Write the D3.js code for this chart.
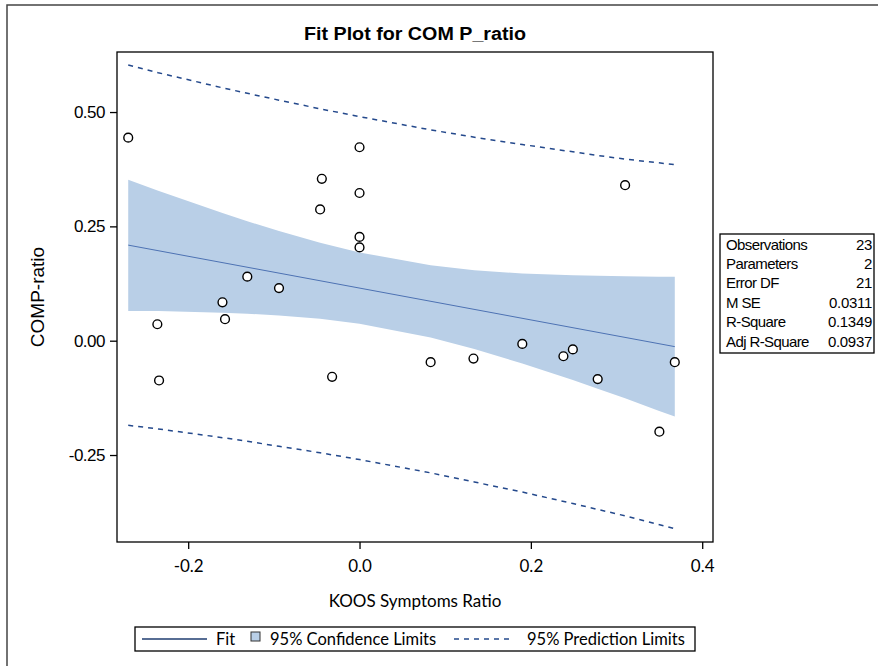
<!DOCTYPE html>
<html>
<head>
<meta charset="utf-8">
<script src="https://cdn.jsdelivr.net/npm/d3@7/dist/d3.min.js"></script>
<style>
  body { margin: 0; background: #fff; }
  svg { display: block; }
</style>
</head>
<body>
<div id="main"></div>
<script>
// observations
var koosX = [-0.270, 0.000, -0.044, 0.000, -0.046, 0.000, 0.000, -0.131, -0.094, -0.160, -0.157, -0.236,
             -0.234, -0.032, 0.083, 0.133, 0.190, 0.238, 0.249, 0.278, 0.310, 0.350, 0.368];
var compY = [0.444, 0.423, 0.354, 0.323, 0.287, 0.227, 0.204, 0.140, 0.115, 0.084, 0.047, 0.036,
             -0.087, -0.079, -0.047, -0.039, -0.007, -0.034, -0.019, -0.084, 0.340, -0.199, -0.047];

// fit line end points
var fitX = [-0.270, 0.368];
var fitY = [0.209, -0.013];

// limits read at these x positions
var bandX   = [-0.270, -0.235, -0.160, -0.131, -0.094, -0.046, 0.000, 0.083, 0.134, 0.190, 0.249, 0.278, 0.310, 0.349, 0.368];
var ciUpper = [0.352, 0.328, 0.279, 0.261, 0.240, 0.214, 0.193, 0.165, 0.154, 0.147, 0.143, 0.142, 0.141, 0.140, 0.140];
var ciLower = [0.065, 0.065, 0.061, 0.059, 0.055, 0.048, 0.037, 0.007, -0.018, -0.050, -0.086, -0.105, -0.126, -0.153, -0.166];
var piUpper = [0.603, 0.586, 0.553, 0.541, 0.526, 0.507, 0.490, 0.461, 0.445, 0.429, 0.413, 0.405, 0.397, 0.389, 0.385];
var piLower = [-0.185, -0.193, -0.212, -0.220, -0.231, -0.245, -0.260, -0.289, -0.309, -0.331, -0.356, -0.369, -0.383, -0.402, -0.411];

var xTicks = [-0.2, 0.0, 0.2, 0.4];
var xTickLabels = ["-0.2", "0.0", "0.2", "0.4"];
var yTicks = [0.50, 0.25, 0.00, -0.25];
var yTickLabels = ["0.50", "0.25", "0.00", "-0.25"];

var statLabels = ["Observations", "Parameters", "Error DF", "M SE", "R-Square", "Adj R-Square"];
var statValues = ["23", "2", "21", "0.0311", "0.1349", "0.0937"];

var legendLabels = ["Fit", "95% Confidence Limits", "95% Prediction Limits"];

var width = 878,
    height = 666;

var plot = {left: 117, right: 713, top: 52, bottom: 542};

var svg = d3.select("#main").append("svg")
    .attr("width", width)
    .attr("height", height);

// outer border (only top and left are visible)
svg.append("path")
    .attr("d", "M7,666 L7,5 L878,5")
    .attr("fill", "none")
    .attr("stroke", "#444")
    .attr("stroke-width", 1.5);

var x = d3.scaleLinear().domain([-0.2831, 0.4126]).range([plot.left, plot.right]);
var y = d3.scaleLinear().domain([-0.4402, 0.6313]).range([plot.bottom, plot.top]);

var bandData = bandX.map(function(d, i) {
    return {x: d, ciU: ciUpper[i], ciL: ciLower[i], piU: piUpper[i], piL: piLower[i]};
});

// confidence band
svg.append("path")
    .datum(bandData)
    .attr("fill", "#b9cfe7")
    .attr("d", d3.area()
        .x(function(d) { return x(d.x); })
        .y0(function(d) { return y(d.ciL); })
        .y1(function(d) { return y(d.ciU); }));

// fit line
svg.append("line")
    .attr("x1", x(fitX[0])).attr("y1", y(fitY[0]))
    .attr("x2", x(fitX[1])).attr("y2", y(fitY[1]))
    .attr("stroke", "#4d72b3")
    .attr("stroke-width", 1);

// prediction limits
["piU", "piL"].forEach(function(k) {
    svg.append("path")
        .datum(bandData)
        .attr("fill", "none")
        .attr("stroke", "#24498c")
        .attr("stroke-width", 1.5)
        .attr("stroke-dasharray", "5,5")
        .attr("d", d3.line()
            .x(function(d) { return x(d.x); })
            .y(function(d) { return y(d[k]); }));
});

// points
svg.selectAll(".pt")
    .data(koosX)
    .enter().append("circle")
    .attr("class", "pt")
    .attr("cx", function(d) { return x(d); })
    .attr("cy", function(d, i) { return y(compY[i]); })
    .attr("r", 4.4)
    .attr("fill", "#fff")
    .attr("stroke", "#000")
    .attr("stroke-width", 1.4);

// frame
svg.append("rect")
    .attr("x", plot.left).attr("y", plot.top)
    .attr("width", plot.right - plot.left)
    .attr("height", plot.bottom - plot.top)
    .attr("fill", "none")
    .attr("stroke", "#000")
    .attr("stroke-width", 1.3);

// axes
var yAxis = svg.append("g")
    .attr("transform", "translate(" + plot.left + ",0)")
    .call(d3.axisLeft(y).tickValues(yTicks).tickSize(7).tickPadding(5)
        .tickFormat(function(d, i) { return yTickLabels[i]; }));
yAxis.select(".domain").remove();
yAxis.selectAll("text")
    .style("font-family", "'Liberation Sans', Arial, sans-serif")
    .style("font-size", "17px")
    .attr("letter-spacing", "-0.5")
    .attr("fill", "#000");
yAxis.selectAll("line").attr("stroke", "#000").attr("stroke-width", 1.3);

var xAxis = svg.append("g")
    .attr("transform", "translate(0," + plot.bottom + ")")
    .call(d3.axisBottom(x).tickValues(xTicks).tickSize(7).tickPadding(11)
        .tickFormat(function(d, i) { return xTickLabels[i]; }));
xAxis.select(".domain").remove();
xAxis.selectAll("text")
    .style("font-family", "Lato, 'Open Sans', sans-serif")
    .style("font-size", "17px")
    .attr("fill", "#000");
xAxis.selectAll("line").attr("stroke", "#000").attr("stroke-width", 1.3);

// titles
svg.append("text")
    .attr("x", (plot.left + plot.right) / 2)
    .attr("y", 40)
    .attr("text-anchor", "middle")
    .style("font-family", "'Liberation Sans', Arial, sans-serif")
    .style("font-weight", "bold")
    .style("font-size", "18px")
    .attr("textLength", 222)
    .attr("lengthAdjust", "spacingAndGlyphs")
    .text("Fit Plot for COM P_ratio");

svg.append("text")
    .attr("transform", "translate(44," + ((plot.top + plot.bottom) / 2) + ") rotate(-90)")
    .attr("text-anchor", "middle")
    .style("font-family", "'Liberation Sans', Arial, sans-serif")
    .style("font-size", "19px")
    .text("COMP-ratio");

svg.append("text")
    .attr("x", (plot.left + plot.right) / 2)
    .attr("y", 607)
    .attr("text-anchor", "middle")
    .style("font-family", "Lato, 'Open Sans', sans-serif")
    .style("font-size", "17px")
    .text("KOOS Symptoms Ratio");

// stats table
var tbl = svg.append("g");
tbl.append("rect")
    .attr("x", 720).attr("y", 234)
    .attr("width", 154).attr("height", 119)
    .attr("fill", "#fff")
    .attr("stroke", "#000")
    .attr("stroke-width", 1.3);
statLabels.forEach(function(s, i) {
    tbl.append("text")
        .attr("x", 726).attr("y", 249.5 + i * 19.4)
        .style("font-family", "'Liberation Sans', Arial, sans-serif")
        .style("font-size", "15px")
        .attr("letter-spacing", "-0.6")
        .text(s);
    tbl.append("text")
        .attr("x", 872).attr("y", 249.5 + i * 19.4)
        .attr("text-anchor", "end")
        .style("font-family", "'Liberation Sans', Arial, sans-serif")
        .style("font-size", "15px")
        .attr("letter-spacing", "-0.3")
        .text(statValues[i]);
});

// legend
var leg = svg.append("g");
leg.append("rect")
    .attr("x", 135).attr("y", 627)
    .attr("width", 560).attr("height", 24)
    .attr("fill", "#fff")
    .attr("stroke", "#000")
    .attr("stroke-width", 1.3);
leg.append("line")
    .attr("x1", 142).attr("x2", 207).attr("y1", 639).attr("y2", 639)
    .attr("stroke", "#1f3d70").attr("stroke-width", 1.3);
leg.append("rect")
    .attr("x", 251).attr("y", 632)
    .attr("width", 9).attr("height", 9)
    .attr("fill", "#b9cfe7")
    .attr("stroke", "#333")
    .attr("stroke-width", 1);
leg.append("line")
    .attr("x1", 454).attr("x2", 514).attr("y1", 639).attr("y2", 639)
    .attr("stroke", "#24498c").attr("stroke-width", 1.3)
    .attr("stroke-dasharray", "5,5");
var legX = [216, 270, 527];
legendLabels.forEach(function(s, i) {
    leg.append("text")
        .attr("x", legX[i]).attr("y", 645)
        .style("font-family", "Lato, 'Open Sans', sans-serif")
        .style("font-size", "16.5px")
        .text(s);
});
</script>
</body>
</html>
